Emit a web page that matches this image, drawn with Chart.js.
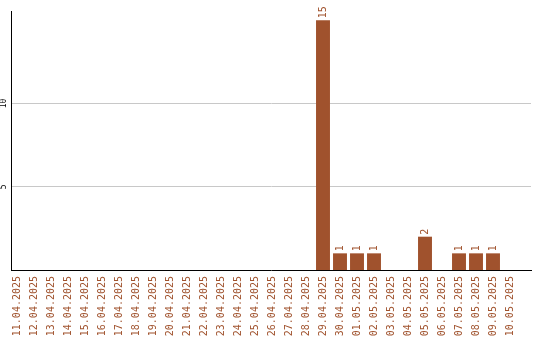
<!DOCTYPE html>
<html>
<head>
<meta charset="utf-8">
<script src="https://cdn.jsdelivr.net/npm/chart.js@4/dist/chart.umd.min.js"></script>
<style>
  html, body { margin: 0; padding: 0; background: #fff; }
  #wrap { width: 540px; height: 340px; }
</style>
</head>
<body>
<div id="wrap"><canvas id="grafik" width="540" height="340"></canvas></div>
<script>
// data
const tanggal = [
  '11.04.2025', '12.04.2025', '13.04.2025', '14.04.2025', '15.04.2025',
  '16.04.2025', '17.04.2025', '18.04.2025', '19.04.2025', '20.04.2025',
  '21.04.2025', '22.04.2025', '23.04.2025', '24.04.2025', '25.04.2025',
  '26.04.2025', '27.04.2025', '28.04.2025', '29.04.2025', '30.04.2025',
  '01.05.2025', '02.05.2025', '03.05.2025', '04.05.2025', '05.05.2025',
  '06.05.2025', '07.05.2025', '08.05.2025', '09.05.2025', '10.05.2025'
];
const jumlah = [
  0, 0, 0, 0, 0, 0, 0, 0, 0, 0,
  0, 0, 0, 0, 0, 0, 0, 0, 15, 1,
  1, 1, 0, 0, 2, 0, 1, 1, 1, 0
];
const yTicks = [5, 10];

const warna = '#a0522d';
const fontMono = 'DejaVu Sans Mono';

// angka di atas batang, diputar
const labelBatang = {
  id: 'labelBatang',
  afterDatasetsDraw(chart) {
    const ctx = chart.ctx;
    const meta = chart.getDatasetMeta(0);
    ctx.save();
    ctx.fillStyle = warna;
    ctx.font = '10px "' + fontMono + '"';
    ctx.textAlign = 'left';
    ctx.textBaseline = 'middle';
    meta.data.forEach((bar, i) => {
      const v = jumlah[i];
      if (!v) return;
      ctx.save();
      ctx.translate(bar.x, bar.y - 2);
      ctx.rotate(-Math.PI / 2);
      ctx.fillText(String(v), 0, 0);
      ctx.restore();
    });
    ctx.restore();
  }
};

new Chart(document.getElementById('grafik').getContext('2d'), {
  type: 'bar',
  data: {
    datasets: [{
      data: jumlah.map((v, i) => ({ x: i, y: v })),
      backgroundColor: warna,
      borderWidth: 0,
      barPercentage: 0.82,
      categoryPercentage: 1
    }]
  },
  options: {
    responsive: false,
    animation: false,
    events: [],
    layout: { padding: { top: 11, right: 9, left: 0, bottom: 0 } },
    plugins: { legend: { display: false }, tooltip: { enabled: false } },
    scales: {
      x: {
        type: 'linear',
        offset: false,
        min: -6 / 17,
        max: -6 / 17 + 520 / 17,
        afterBuildTicks: (s) => { s.ticks = tanggal.map((_, i) => ({ value: i })); },
        afterFit: (s) => {
          s.height = 70;
          s.paddingLeft = 0;
          s.paddingRight = 0;
        },
        grid: { display: false, drawTicks: false },
        border: { display: true, color: '#000', width: 1 },
        ticks: {
          autoSkip: false,
          minRotation: 90,
          maxRotation: 90,
          padding: 6,
          color: warna,
          font: { family: fontMono, size: 10 },
          callback: (v) => tanggal[v] || ''
        }
      },
      y: {
        min: 0,
        max: 15.55,
        afterBuildTicks: (s) => { s.ticks = yTicks.map(v => ({ value: v })); },
        afterFit: (s) => { s.width = 11; },
        grid: { color: '#c8c8c8', drawTicks: false, lineWidth: 1 },
        border: { display: true, color: '#000', width: 1 },
        ticks: {
          minRotation: 90,
          maxRotation: 90,
          crossAlign: 'center',
          padding: 2,
          color: '#000',
          font: { family: fontMono, size: 8 },
          callback: (v) => String(v)
        }
      }
    }
  },
  plugins: [labelBatang]
});
</script>
</body>
</html>
